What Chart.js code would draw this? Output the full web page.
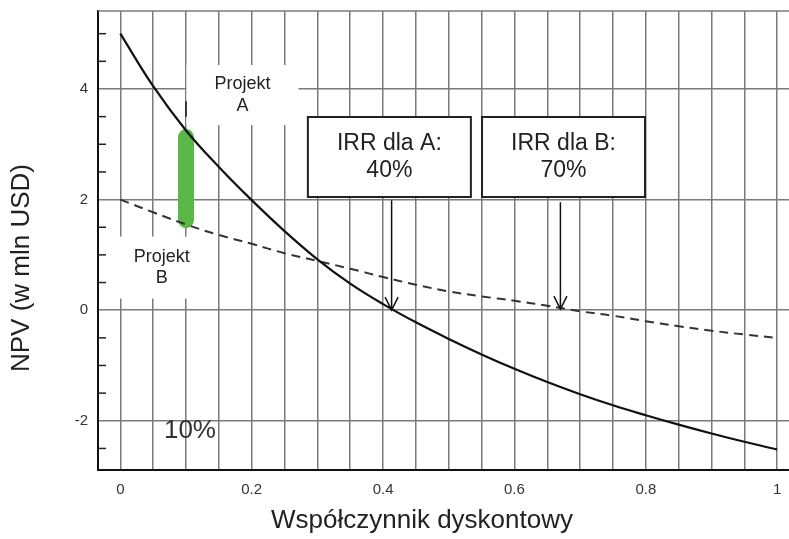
<!DOCTYPE html>
<html>
<head>
<meta charset="utf-8">
<script src="https://cdn.jsdelivr.net/npm/chart.js@4"></script>
<style>
  html, body { margin: 0; padding: 0; background: #fff; }
</style>
</head>
<body>
<canvas id="myChart" width="789" height="539"></canvas>
<script>
const discountRates = [0, 0.05, 0.1, 0.15, 0.2, 0.25, 0.3, 0.35, 0.4, 0.45, 0.5,
  0.55, 0.6, 0.65, 0.7, 0.75, 0.8, 0.85, 0.9, 0.95, 1];
const npvA = [5.0, 4.05, 3.25, 2.59, 1.99, 1.43, 0.92, 0.48, 0.11, -0.22, -0.52,
  -0.8, -1.06, -1.3, -1.52, -1.72, -1.9, -2.07, -2.23, -2.38, -2.52];
const npvB = [2.0, 1.77, 1.55, 1.36, 1.2, 1.03, 0.89, 0.75, 0.6, 0.46, 0.34,
  0.25, 0.17, 0.08, -0.02, -0.1, -0.2, -0.29, -0.37, -0.44, -0.5];
const gapRate = [0.1, 0.1];
const gapNpv = [3.13, 1.63];
const irrA = 0.413;
const irrB = 0.67;
const xTickLabels = [0, 0.2, 0.4, 0.6, 0.8, 1];
const yTickLabels = [-2, 0, 2, 4];
const yMinorTicks = [-2.5, -1.5, -1, -0.5, 0.5, 1, 1.5, 2.5, 3, 3.5, 4.5, 5];

const FONT = '"Liberation Sans", Arial, sans-serif';
const GRID = "#7a7a7a";

const toPoints = (xs, ys) => xs.map((v, i) => ({ x: v, y: ys[i] }));

function textBox(ctx, x, y, cx, cy, w, h, lines, size, border) {
  const px = x.getPixelForValue(cx), py = y.getPixelForValue(cy);
  ctx.fillStyle = "#fff";
  ctx.fillRect(px - w / 2, py - h / 2, w, h);
  if (border) {
    ctx.strokeStyle = "#222";
    ctx.lineWidth = 2;
    ctx.strokeRect(px - w / 2, py - h / 2, w, h);
  }
  ctx.fillStyle = "#222";
  ctx.font = size + "px " + FONT;
  ctx.textAlign = "center";
  ctx.textBaseline = "middle";
  const lh = size * 1.2;
  lines.forEach((t, i) => {
    ctx.fillText(t, px, py + (i - (lines.length - 1) / 2) * lh);
  });
}

function arrow(ctx, x, y, xv, fromY, toY) {
  const px = x.getPixelForValue(xv);
  const y0 = y.getPixelForValue(fromY), y1 = y.getPixelForValue(toY);
  ctx.strokeStyle = "#111";
  ctx.lineWidth = 1.5;
  ctx.beginPath();
  ctx.moveTo(px, y0);
  ctx.lineTo(px, y1);
  ctx.moveTo(px - 6.5, y1 - 13);
  ctx.lineTo(px, y1);
  ctx.lineTo(px + 6.5, y1 - 13);
  ctx.stroke();
}

const extras = {
  id: "extras",
  beforeDatasetsDraw(chart) {
    const { ctx, chartArea: a, scales: { x, y } } = chart;
    ctx.save();
    // top frame line
    ctx.strokeStyle = GRID;
    ctx.lineWidth = 1.5;
    ctx.beginPath();
    ctx.moveTo(a.left, a.top);
    ctx.lineTo(a.right, a.top);
    ctx.stroke();
    // minor ticks inside the y axis
    ctx.strokeStyle = "#222";
    yMinorTicks.forEach(v => {
      const py = y.getPixelForValue(v);
      ctx.beginPath();
      ctx.moveTo(a.left, py);
      ctx.lineTo(a.left + 8, py);
      ctx.stroke();
    });
    // project labels on white patches
    textBox(ctx, x, y, 0.186, 3.89, 112, 60, ["Projekt", "A"], 18, false);
    textBox(ctx, x, y, 0.063, 0.77, 110, 62, ["Projekt", "B"], 18, false);
    ctx.restore();
  },
  afterDatasetsDraw(chart) {
    const { ctx, scales: { x, y } } = chart;
    ctx.save();
    // small mark above the gap bar
    ctx.strokeStyle = "#111";
    ctx.lineWidth = 1.5;
    ctx.beginPath();
    ctx.moveTo(x.getPixelForValue(0.1), y.getPixelForValue(3.78));
    ctx.lineTo(x.getPixelForValue(0.1), y.getPixelForValue(3.5));
    ctx.stroke();

    textBox(ctx, x, y, 0.4096, 2.77, 163, 80, ["IRR dla A:", "40%"], 23, true);
    textBox(ctx, x, y, 0.6747, 2.77, 163, 80, ["IRR dla B:", "70%"], 23, true);
    arrow(ctx, x, y, irrA, 1.99, 0);
    arrow(ctx, x, y, irrB, 1.95, 0.02);

    ctx.fillStyle = "#333";
    ctx.font = "26px " + FONT;
    ctx.textAlign = "center";
    ctx.textBaseline = "middle";
    ctx.fillText("10%", x.getPixelForValue(0.106), y.getPixelForValue(-2.18));

    // axis titles
    ctx.fillStyle = "#222";
    ctx.font = "26px " + FONT;
    ctx.fillText("Współczynnik dyskontowy", 422, 521);
    ctx.translate(22, 268);
    ctx.rotate(-Math.PI / 2);
    ctx.fillText("NPV (w mln USD)", 0, 0);
    ctx.restore();
  }
};

const ctx = document.getElementById("myChart").getContext("2d");
const myChart = new Chart(ctx, {
  type: "line",
  data: {
    datasets: [
      {
        label: "Projekt A",
        data: toPoints(discountRates, npvA),
        borderColor: "#111",
        borderWidth: 2.2,
        pointRadius: 0,
        tension: 0.4,
      },
      {
        label: "Projekt B",
        data: toPoints(discountRates, npvB),
        borderColor: "#333",
        borderWidth: 2,
        borderDash: [9, 6],
        pointRadius: 0,
        tension: 0.4,
      },
      {
        label: "Różnica",
        data: toPoints(gapRate, gapNpv),
        borderColor: "#5ab946",
        borderWidth: 16,
        borderCapStyle: "round",
        pointRadius: 0,
      },
    ],
  },
  options: {
    responsive: false,
    animation: false,
    layout: { padding: { left: 0, right: 0, top: 11, bottom: 0 } },
    plugins: {
      legend: { display: false },
      tooltip: { enabled: false },
    },
    scales: {
      x: {
        type: "linear",
        min: -0.034,
        max: 1.018,
        afterBuildTicks: (s) => { s.ticks = discountRates.map(v => ({ value: v })); },
        afterFit: (s) => {
          s.height = 69;
          s.paddingLeft = 0; s.paddingRight = 0; s.paddingTop = 0; s.paddingBottom = 0;
        },
        grid: { color: GRID, lineWidth: 1.5, drawTicks: false },
        border: { color: "#111", width: 2 },
        ticks: {
          autoSkip: false,
          maxRotation: 0,
          padding: 11,
          color: "#333",
          font: { family: FONT, size: 15 },
          callback: (v) => {
            const hit = xTickLabels.find(t => Math.abs(t - v) < 1e-6);
            return hit === undefined ? "" : String(hit);
          },
        },
      },
      y: {
        min: -2.89,
        max: 5.41,
        afterBuildTicks: (s) => { s.ticks = yTickLabels.map(v => ({ value: v })); },
        afterFit: (s) => {
          s.width = 98;
          s.paddingLeft = 0; s.paddingRight = 0; s.paddingTop = 0; s.paddingBottom = 0;
        },
        grid: { color: GRID, lineWidth: 1.5, drawTicks: false },
        border: { color: "#111", width: 2 },
        ticks: {
          padding: 10,
          color: "#333",
          font: { family: FONT, size: 15 },
          callback: (v) => String(v),
        },
      },
    },
  },
  plugins: [extras],
});
</script>
</body>
</html>
